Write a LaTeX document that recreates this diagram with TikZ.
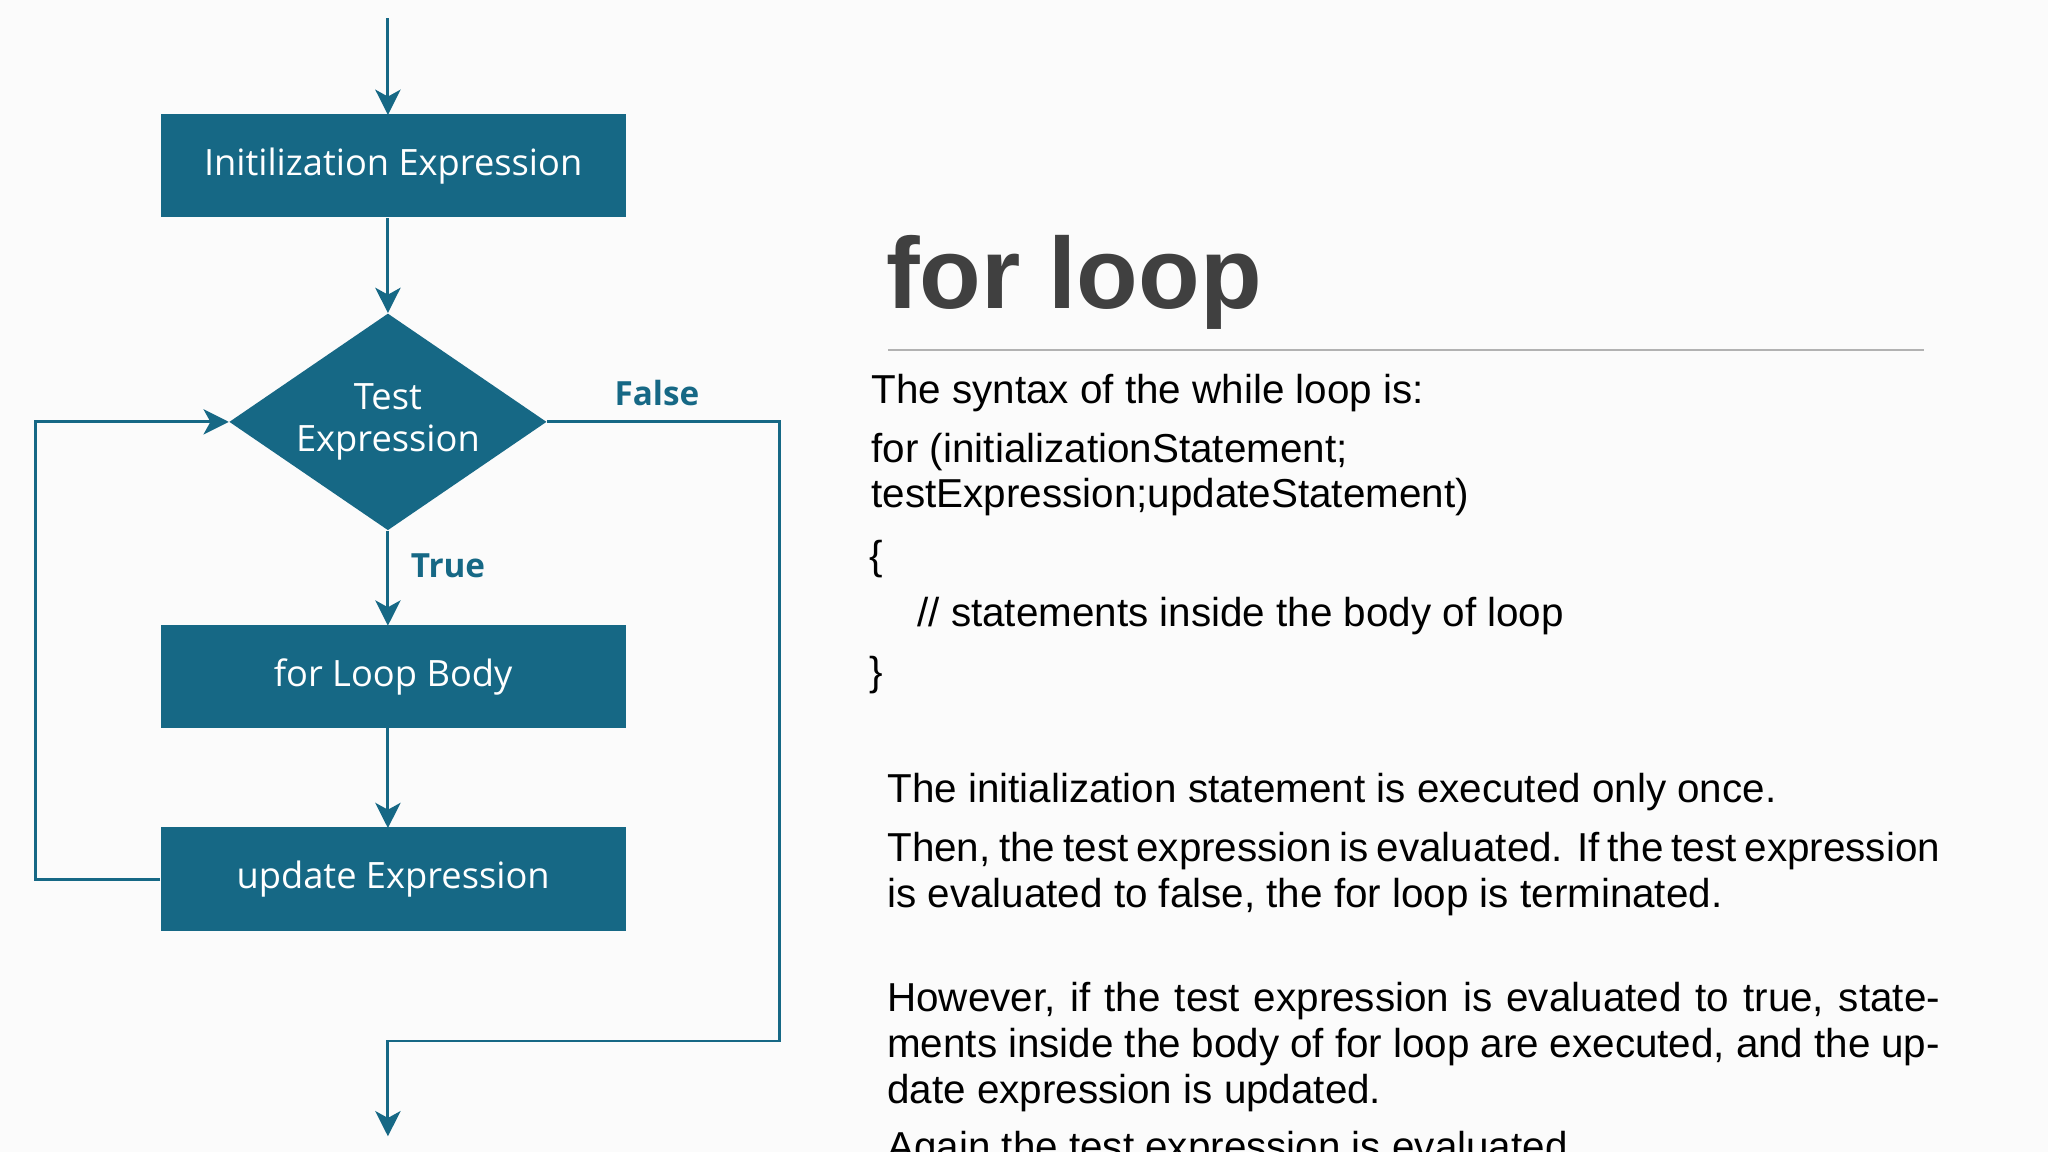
\documentclass[tikz,border=0pt]{standalone}
\usepackage{fontspec}
\setmainfont{Liberation Sans}
\newfontfamily\flow{Open Sans}
\usetikzlibrary{shapes.geometric,arrows.meta}
\definecolor{teal}{RGB}{22,104,133}
\definecolor{ttl}{RGB}{64,64,64}
\newcommand\nohy{\hyphenpenalty=10000\exhyphenpenalty=10000\relax}
\begin{document}
\begin{tikzpicture}[x=0.02cm,y=-0.02cm,
  box/.style={draw=none,fill=teal,minimum width=356*0.02cm,minimum height=79*0.02cm,text=white,font=\flow\fontsize{15.8}{18}\selectfont,inner sep=0},
  ln/.style={draw=teal,line width=1.3pt},
  arr/.style={ln,-{Stealth[length=11pt,width=11pt,inset=3pt]}},
  lbl/.style={text=teal,font=\flow\bfseries\fontsize{14.5}{16}\selectfont},
  body/.style={anchor=north west,text width=806*0.02cm,align=justify,font=\fontsize{17.6}{20}\selectfont,inner sep=0,text=black}]
\fill[white!97!gray] (0,0) rectangle (1568,882);
\clip (0,0) rectangle (1568,882);
\coordinate (top) at (297,14);
\node[box] (init) at (301,127) {Initilization Expression};
\node[diamond,fill=teal,minimum width=243*0.02cm,minimum height=166*0.02cm,inner sep=0,text=white,align=center,font=\flow\fontsize{15.8}{18.5}\selectfont,aspect=1.46] (test) at (297,323) {Test\\Expression};
\node[box] (bodyb) at (301,518) {for Loop Body};
\node[box] (upd) at (301,673) {update Expression};
\coordinate (l1) at (27,673);
\coordinate (l2) at (27,323);
\coordinate (f1) at (597,323);
\coordinate (f2) at (597,797);
\coordinate (f3) at (297,797);
\coordinate (out) at (297,870);
\draw[arr] (top) -- (297,88);
\draw[arr] (297,167) -- (test.north);
\draw[arr] (test.south) -- (297,479);
\draw[arr] (297,557) -- (297,634);
\draw[arr] (upd.west) -- (l1) -- (l2) -- (test.west);
\draw[arr] (test.east) -- (f1) -- (f2) -- (f3) -- (out);
\node[lbl] (fl) at (503,301) {False};
\node[lbl] (tl) at (343,433) {True};
\node[anchor=west,text=ttl,font=\bfseries\fontsize{44}{50}\selectfont,inner sep=0] (title) at (678,216) {for loop};
\draw[gray!60,line width=0.6pt] (680,268) -- (1473,268);
\node[anchor=west,inner sep=0,font=\fontsize{17.6}{20}\selectfont,align=left] (syn) at (667,301) {The syntax of the while loop is:};
\node[anchor=north west,inner sep=0,font=\fontsize{17.6}{20}\selectfont,align=left] (code) at (667,331) {for (initializationStatement;\\testExpression;updateStatement)};
\node[anchor=west,inner sep=0,font=\fontsize{17.6}{20}\selectfont] (ob) at (665,428) {\{};
\node[anchor=west,inner sep=0,font=\fontsize{17.6}{20}\selectfont] (cm) at (702,472) {// statements inside the body of loop};
\node[anchor=west,inner sep=0,font=\fontsize{17.6}{20}\selectfont] (cb) at (665,517) {\}};
\node[body] (p1) at (679,592) {\nohy The initialization statement is executed only once.};
\node[body] (p2) at (679,637) {\nohy Then, the test expression is evaluated. If the test expression is evaluated to false, the for loop is terminated.};
\node[body] (p3) at (679,752) {\nohy However, if the test expression is evaluated to true, statements inside the body of for loop are executed, and the update expression is updated.};
\node[body] (p4) at (679,866) {\nohy Again the test expression is evaluated.};
\end{tikzpicture}
\end{document}
